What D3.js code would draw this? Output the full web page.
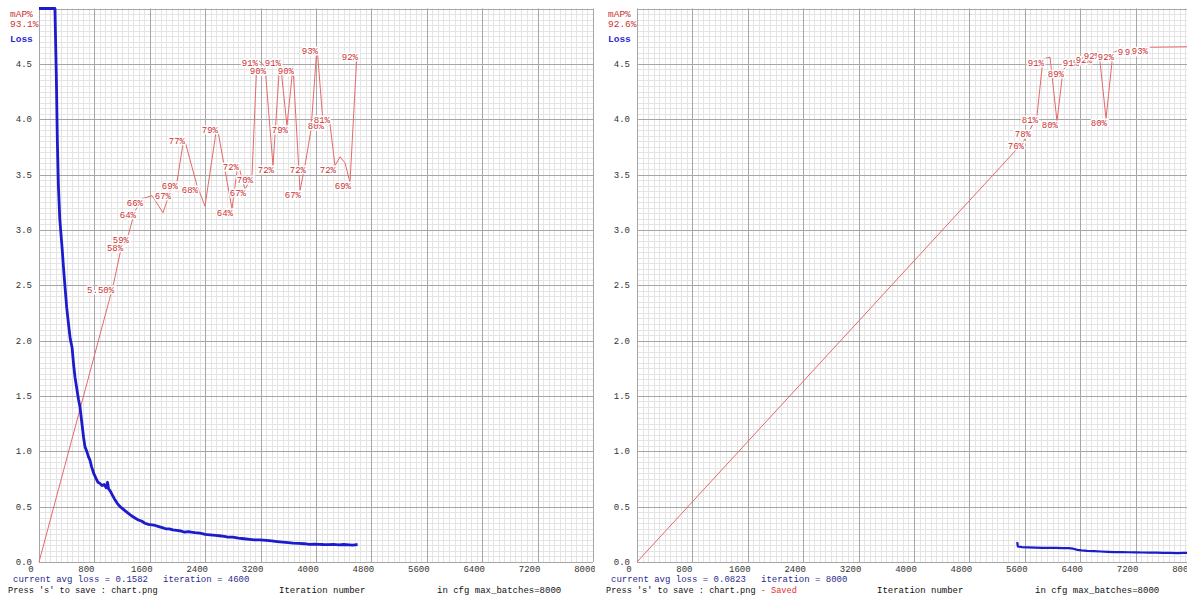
<!DOCTYPE html>
<html>
<head>
<meta charset="utf-8">
<script src="https://cdn.jsdelivr.net/npm/d3@7"></script>
<style>
body { margin: 0; background: #fff; }
text { font-family: "Liberation Mono", "DejaVu Sans Mono", monospace; }
</style>
</head>
<body>
<div id="chart"></div>
<script>
// axis ticks
var xTicks = [0, 800, 1600, 2400, 3200, 4000, 4800, 5600, 6400, 7200, 8000];
var yTicks = [0, 0.5, 1.0, 1.5, 2.0, 2.5, 3.0, 3.5, 4.0, 4.5];
var maxBatches = 8000;
var maxLoss = 5;

// left run : avg loss per iteration
var lossIterA = [0, 100, 200, 230, 250, 265, 280, 300, 332, 355, 375, 400, 419, 450, 477, 500, 520, 550, 570, 592,
  620, 645, 664, 690, 715, 736, 760, 790, 820, 852, 880, 910, 940, 970, 990, 1005, 1030, 1054, 1090, 1130,
  1170, 1210, 1250, 1290, 1330, 1380, 1430, 1480, 1530, 1580, 1630, 1680, 1730, 1780, 1830, 1880, 1935, 1990,
  2050, 2100, 2160, 2200, 2250, 2325, 2400, 2470, 2550, 2630, 2715, 2800, 2880, 2960, 3040, 3110, 3191, 3280,
  3360, 3440, 3520, 3600, 3668, 3750, 3830, 3900, 3980, 4050, 4101, 4180, 4250, 4330, 4400, 4480, 4530, 4563, 4600];
var lossValA = [12, 9, 6.5, 5.2, 4.4, 3.8, 3.4, 3.1, 2.85, 2.65, 2.49, 2.3, 2.19, 2.02, 1.94, 1.78, 1.67, 1.55, 1.47, 1.40,
  1.25, 1.12, 1.04, 1.0, 0.95, 0.92, 0.86, 0.80, 0.76, 0.72, 0.71, 0.69, 0.70, 0.67, 0.72, 0.66, 0.64, 0.61, 0.57, 0.53,
  0.50, 0.48, 0.46, 0.44, 0.42, 0.40, 0.38, 0.37, 0.35, 0.34, 0.335, 0.33, 0.32, 0.31, 0.30, 0.30, 0.29, 0.285,
  0.28, 0.27, 0.275, 0.27, 0.265, 0.26, 0.25, 0.245, 0.24, 0.235, 0.226, 0.225, 0.215, 0.21, 0.205, 0.2, 0.2, 0.195,
  0.19, 0.185, 0.18, 0.175, 0.17, 0.168, 0.165, 0.16, 0.162, 0.16, 0.158, 0.157, 0.16, 0.155, 0.158, 0.155, 0.152, 0.155, 0.158];

// left run : mAP checks
var mapIterA = [0, 1070, 1200, 1285, 1386, 1487, 1632, 1791, 1892, 1993, 2094, 2282, 2397, 2570, 2787, 2874, 2975, 3076,
  3148, 3264, 3379, 3480, 3581, 3668, 3769, 3841, 3928, 4014, 4101, 4188, 4274, 4347, 4419, 4491, 4592];
var mapValA = [0, 49.9, 57.5, 58.9, 63.4, 65.6, 66.2, 63.1, 66.9, 68.7, 76.7, 68.0, 64.3, 78.8, 63.8, 72.0, 67.3, 69.8,
  90.9, 89.5, 71.6, 90.9, 78.8, 89.5, 67.1, 71.6, 78.1, 93.1, 79.5, 80.6, 71.6, 73.2, 72.1, 68.6, 92.0];
var mapLabelA = ["", "5.50%", "58%", "59%", "64%", "66%", "", "", "67%", "69%", "77%", "68%", "", "79%", "64%", "72%", "67%", "70%",
  "91%", "90%", "72%", "91%", "79%", "90%", "67%", "72%", "", "93%", "80%", "81%", "72%", "", "", "69%", "92%"];

// right run : avg loss per iteration (resumed)
var lossIterB = [5490, 5500, 5560, 5650, 5750, 5850, 5950, 6050, 6150, 6230, 6300, 6360, 6420, 6500, 6600, 6700, 6800,
  6900, 7000, 7100, 7200, 7300, 7400, 7500, 7600, 7700, 7800, 7900, 8000];
var lossValB = [0.18, 0.14, 0.135, 0.132, 0.13, 0.128, 0.127, 0.128, 0.125, 0.125, 0.12, 0.11, 0.105, 0.1, 0.098, 0.095, 0.092,
  0.09, 0.09, 0.088, 0.087, 0.086, 0.085, 0.084, 0.082, 0.083, 0.081, 0.082, 0.082];

// right run : mAP checks
var mapIterB = [0, 5574, 5675, 5776, 5863, 5964, 6065, 6151, 6253, 6368, 6469, 6556, 6671, 6773, 6873, 6975, 7076, 7162, 7263, 7364, 8000];
var mapValB = [0, 75.8, 78.1, 80.6, 90.9, 91.2, 79.6, 88.8, 90.6, 90.9, 91.2, 91.5, 92.2, 80.1, 92.0, 92.6, 92.6, 92.8, 92.9, 93.0, 93.1];
var mapLabelB = ["", "76%", "78%", "81%", "91%", "", "80%", "89%", "", "91%", "", "92%", "92%", "80%", "92%", "", "", "93%", "93%", "93%", ""];

var svg = d3.select("#chart")
  .append("svg")
    .attr("width", 1187)
    .attr("height", 600)
    .style("display", "block");

var defs = svg.append("defs");

function drawPanel(x0, clipX, clipW, run) {
  var id = "clip" + x0;
  defs.append("clipPath").attr("id", id)
    .append("rect").attr("x", clipX).attr("y", 0).attr("width", clipW).attr("height", 600);

  var g = svg.append("g").attr("clip-path", "url(#" + id + ")");
  g.append("rect").attr("x", clipX).attr("y", 0).attr("width", clipW).attr("height", 600).attr("fill", "#fff");

  var x = d3.scaleLinear().domain([0, maxBatches]).range([x0, x0 + 554]);
  var y = d3.scaleLinear().domain([0, maxLoss]).range([562, 8.5]).clamp(true);

  // minor grid
  g.append("g").selectAll("line").data(d3.range(0, 101)).enter().append("line")
    .attr("x1", function(d) { return Math.round(x(d * 80)) + 0.5; })
    .attr("x2", function(d) { return Math.round(x(d * 80)) + 0.5; })
    .attr("y1", y(maxLoss)).attr("y2", y(0))
    .style("stroke", "#e4e4e4");
  g.append("g").selectAll("line").data(d3.range(0, 101)).enter().append("line")
    .attr("y1", function(d) { return Math.round(y(d * 0.05)) + 0.5; })
    .attr("y2", function(d) { return Math.round(y(d * 0.05)) + 0.5; })
    .attr("x1", x(0)).attr("x2", x(maxBatches))
    .style("stroke", "#e4e4e4");

  // major grid
  g.append("g").selectAll("line").data(xTicks).enter().append("line")
    .attr("x1", function(d) { return Math.round(x(d)) + 0.5; })
    .attr("x2", function(d) { return Math.round(x(d)) + 0.5; })
    .attr("y1", y(maxLoss)).attr("y2", y(0))
    .style("stroke", "#a6a6a6");
  g.append("g").selectAll("line").data(yTicks.concat([maxLoss])).enter().append("line")
    .attr("y1", function(d) { return Math.round(y(d)) + 0.5; })
    .attr("y2", function(d) { return Math.round(y(d)) + 0.5; })
    .attr("x1", x(0)).attr("x2", x(maxBatches))
    .style("stroke", "#a6a6a6");

  // tick labels
  g.append("g").selectAll("text").data(yTicks).enter().append("text")
    .attr("x", x0 - 7)
    .attr("y", function(d) { return y(d) + 3; })
    .attr("text-anchor", "end")
    .style("font-size", "9px")
    .style("fill", "#333")
    .text(function(d) { return d3.format(".1f")(d); });
  g.append("g").selectAll("text").data(xTicks).enter().append("text")
    .attr("x", function(d) { return x(d) - 8; })
    .attr("y", 572)
    .attr("text-anchor", "middle")
    .style("font-size", "9px")
    .style("fill", "#333")
    .text(function(d) { return d; });

  // mAP line
  var mapPts = run.mapIter.map(function(d, i) { return [d, run.mapVal[i] / 100 * maxLoss, run.mapLabel[i]]; });
  var line = d3.line().x(function(d) { return x(d[0]); }).y(function(d) { return y(d[1]); });
  g.append("path")
    .datum(mapPts)
    .attr("d", line)
    .style("fill", "none")
    .style("stroke", "#e46a6a")
    .style("stroke-width", 1);

  g.append("g").selectAll("text").data(mapPts.filter(function(d) { return d[2] != ""; })).enter().append("text")
    .attr("x", function(d) { return x(d[0]) + 1; })
    .attr("y", function(d) { return y(d[1]) + 7; })
    .attr("text-anchor", "end")
    .style("font-size", "9px")
    .style("fill", "#cc3333")
    .style("stroke", "#fff")
    .style("stroke-width", 3)
    .style("paint-order", "stroke")
    .text(function(d) { return d[2]; });

  // loss line
  var lossPts = run.lossIter.map(function(d, i) { return [d, run.lossVal[i]]; });
  g.append("path")
    .datum(lossPts)
    .attr("d", line)
    .style("fill", "none")
    .style("stroke", "#1c1ccc")
    .style("stroke-width", run.lossWidth)
    .style("stroke-linejoin", "round");

  // legend
  g.append("text").attr("x", x0 - 29).attr("y", 17).style("font-size", "9.5px").style("fill", "#cc3333").text("mAP%");
  g.append("text").attr("x", x0 - 29).attr("y", 27).style("font-size", "9.5px").style("fill", "#cc3333").text(run.best);
  g.append("text").attr("x", x0 - 29).attr("y", 42).style("font-size", "9.5px").style("font-weight", "bold").style("fill", "#2a2ad0").text("Loss");

  // status texts
  g.append("text").attr("x", x0 - 26).attr("y", 582).style("font-size", "9px").style("fill", "#2b2b8f")
    .text("current avg loss = " + run.avg);
  g.append("text").attr("x", x0 + 124).attr("y", 582).style("font-size", "9px").style("fill", "#2b2b8f")
    .text("iteration = " + run.iter);
  var press = g.append("text").attr("x", x0 - 31).attr("y", 593).style("font-size", "8.6px").style("fill", "#111");
  press.append("tspan").text("Press 's' to save : chart.png");
  if (run.saved) {
    press.append("tspan").style("fill", "#e03030").text(" - Saved");
  }
  g.append("text").attr("x", x0 + 240).attr("y", 593).style("font-size", "9px").style("fill", "#111").text("Iteration number");
  g.append("text").attr("x", x0 + 398).attr("y", 593).style("font-size", "9px").style("fill", "#111").text("in cfg max_batches=" + maxBatches);
}

drawPanel(39, 0, 595, {
  lossIter: lossIterA, lossVal: lossValA, lossWidth: 2.8,
  mapIter: mapIterA, mapVal: mapValA, mapLabel: mapLabelA,
  best: "93.1%", avg: "0.1582", iter: 4600, saved: false
});
drawPanel(637, 597, 600, {
  lossIter: lossIterB, lossVal: lossValB, lossWidth: 2.2,
  mapIter: mapIterB, mapVal: mapValB, mapLabel: mapLabelB,
  best: "92.6%", avg: "0.0823", iter: 8000, saved: true
});
</script>
</body>
</html>
